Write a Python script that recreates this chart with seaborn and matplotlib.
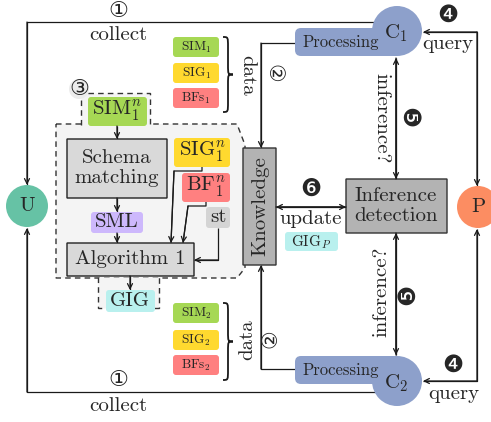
import matplotlib.pyplot as plt
import seaborn as sns
from matplotlib.patches import FancyBboxPatch, Circle, Polygon, PathPatch
from matplotlib.path import Path

sns.set_theme(style='white')
plt.rcParams['font.family'] = ['cmr10', 'DejaVu Sans']
plt.rcParams['mathtext.fontset'] = 'cm'
plt.rcParams['axes.unicode_minus'] = False

pal = sns.color_palette('Set2')

# Labels of the diagram
agents = ['U', 'P']
clients = ['C$_1$', 'C$_2$']
client_data = [['SIM$_1$', 'SIG$_1$', 'BFs$_1$'],
               ['SIM$_2$', 'SIG$_2$', 'BFs$_2$']]
data_colors = [pal[4], pal[5], '#ff8080']
step_marks = ['①', '②', '③', '❹', '❺', '❻']
edge_labels = ['collect', 'data', 'query', 'inference?', 'update']
pipeline = ['SIM$_1^n$', 'Schema\nmatching', 'SML', 'Algorithm 1', 'GIG']
side_inputs = ['SIG$_1^n$', 'BF$_1^n$', 'st']
central = ['Knowledge', 'Inference\ndetection', 'GIG$_P$', 'Processing']

fig = plt.figure(figsize=(4.91, 4.22), dpi=100)
ax = fig.add_axes([0, 0, 1, 1])
ax.set_xlim(0, 491)
ax.set_ylim(422, 0)
ax.axis('off')

LW = 0.9


def box(x0, y0, x1, y1, fc, ec='none', lw=0, r=3, z=2):
    ax.add_patch(FancyBboxPatch((x0, y0), x1 - x0, y1 - y0,
                                boxstyle=f'round,pad=0,rounding_size={r}',
                                fc=fc, ec=ec, lw=lw, zorder=z))


def arrow(p0, p1):
    ax.annotate('', xy=p1, xytext=p0, zorder=4,
                arrowprops=dict(arrowstyle='->', lw=LW, color='k',
                                shrinkA=0, shrinkB=0, mutation_scale=9))


def link(pts, start=False, end=True):
    xs = [p[0] for p in pts]
    ys = [p[1] for p in pts]
    ax.plot(xs, ys, color='k', lw=LW, zorder=1, solid_capstyle='butt')
    if end:
        arrow(pts[-2], pts[-1])
    if start:
        arrow(pts[1], pts[0])


def brace(x, y0, y1, w=10):
    ym = (y0 + y1) / 2
    h = w / 2
    verts = [(x, y0), (x + h, y0), (x + h, y0), (x + h, y0 + w),
             (x + h, ym - w),
             (x + h, ym), (x + h, ym), (x + w, ym),
             (x + h, ym), (x + h, ym), (x + h, ym + w),
             (x + h, y1 - w),
             (x + h, y1), (x + h, y1), (x, y1)]
    codes = [Path.MOVETO, Path.CURVE4, Path.CURVE4, Path.CURVE4, Path.LINETO,
             Path.CURVE4, Path.CURVE4, Path.CURVE4,
             Path.CURVE4, Path.CURVE4, Path.CURVE4, Path.LINETO,
             Path.CURVE4, Path.CURVE4, Path.CURVE4]
    ax.add_patch(PathPatch(Path(verts, codes), fc='none', ec='k', lw=1.3))


def txt(x, y, s, size=15, rot=0, z=5, **kw):
    ax.text(x, y, s, fontsize=size, rotation=rot, ha='center', va='center',
            zorder=z, **kw)


# dashed region with tabs
ax.add_patch(Polygon([(56, 124), (237, 124), (245, 145), (245, 268),
                      (237, 278), (56, 278)], closed=True, fc='#f4f4f4',
                     ec='#333333', lw=1, ls=(0, (4, 3)), zorder=0))
ax.add_patch(Polygon([(81, 125), (81, 93), (150, 93), (150, 125)], closed=False,
                     fc='#f4f4f4', ec='#333333', lw=1, ls=(0, (4, 3)), zorder=0))
ax.add_patch(Polygon([(98, 277), (98, 308), (159, 308), (159, 277)], closed=False,
                     fc='#f4f4f4', ec='#333333', lw=1, ls=(0, (4, 3)), zorder=0))
ax.add_patch(Circle((79, 89), 10, fc='#ececec', ec='none', zorder=1))
txt(79, 89, step_marks[2], size=16)

# outer collect / query links
link([(390, 22), (27, 22), (27, 185)])
link([(390, 392), (27, 392), (27, 228)])
link([(423, 32), (477, 32), (477, 186)], start=True)
link([(423, 381), (477, 381), (477, 229)], start=True)
txt(118, 11, step_marks[0], size=16)
txt(118, 35, edge_labels[0])
txt(118, 380, step_marks[0], size=16)
txt(118, 406, edge_labels[0])
txt(448, 16, step_marks[3], size=17)
txt(448, 44, edge_labels[2])
txt(453, 366, step_marks[3], size=17)
txt(454, 394, edge_labels[2])

# data to knowledge
link([(296, 43), (261, 43), (261, 148)])
link([(296, 369), (261, 369), (261, 265)])
txt(272, 73, step_marks[1], size=15, rot=-90)
txt(272, 339, step_marks[1], size=15, rot=90)
txt(247, 75, edge_labels[1], rot=-90)
txt(247, 340, edge_labels[1], rot=90)

# inference links
link([(276, 207), (346, 207)], start=True)
link([(396, 58), (396, 179)], start=True)
link([(396, 233), (396, 355)], start=True)
txt(381, 118, edge_labels[3], rot=-90)
txt(381, 292, edge_labels[3], rot=90)
txt(408, 118, step_marks[4], size=17, rot=-90)
txt(408, 294, step_marks[4], size=17, rot=90)
txt(311, 190, step_marks[5], size=17)
txt(311, 219, edge_labels[4])
box(285, 232, 338, 251, '#b9f0ee')
txt(311, 242, central[2], size=11)

# knowledge and inference detection
box(243, 148, 276, 265, '#b3b3b3', ec='#333333', lw=1, r=0)
txt(260, 206, central[0], rot=90)
box(346, 179, 447, 233, '#b3b3b3', ec='#333333', lw=1, r=0)
txt(396, 206, central[1], linespacing=1.1)

# agents
ax.add_patch(Circle((27, 206), 21, fc=pal[0], ec='none', zorder=3))
txt(27, 206, agents[0])
ax.add_patch(Circle((478, 207), 21, fc=pal[1], ec='none', zorder=3))
txt(478, 207, agents[1])

# clients with processing tabs
for cy, by, lab in [(31, 28, clients[0]), (381, 356, clients[1])]:
    box(295, by, 400, by + 28, pal[2], r=6, z=3)
    ax.add_patch(Circle((397, cy), 25, fc=pal[2], ec='none', zorder=3))
    txt(341, by + 14, central[3], size=12)
    txt(396, cy + 2, lab)

# client data boxes
for tops, items in [([37, 63, 88], client_data[0]), ([303, 330, 355], client_data[1])]:
    for top, s, c in zip(tops, items, data_colors):
        box(173, top, 219, top + 20, c)
        txt(196, top + 10, s, size=9.5)
brace(223, 37, 112)
brace(223, 303, 380)

# pipeline inside the dashed region
box(88, 97, 147, 126, pal[4])
txt(117, 111, pipeline[0])
box(67, 139, 167, 198, '#d9d9d9', ec='#222222', lw=1, r=0)
txt(117, 168, pipeline[1], linespacing=1.15)
box(91, 212, 143, 233, '#cdb8fc')
txt(117, 222, pipeline[2])
box(67, 243, 194, 276, '#d9d9d9', ec='#222222', lw=1, r=0)
txt(130, 259, pipeline[3])
box(106, 290, 155, 312, '#b9f0ee')
txt(130, 301, pipeline[4])

box(174, 138, 230, 167, pal[5])
txt(202, 152, side_inputs[0])
box(182, 173, 230, 202, '#ff8080')
txt(206, 187, side_inputs[1])
box(206, 207, 230, 228, '#d4d4d4')
txt(218, 217, side_inputs[2])

link([(117, 126), (117, 139)])
link([(117, 198), (117, 212)])
link([(117, 233), (117, 243)])
link([(130, 276), (130, 290)])
link([(202, 167), (202, 171), (174, 171), (171, 243)])
link([(206, 202), (206, 206), (188, 206), (183, 243)])
link([(218, 228), (218, 260), (194, 260)])

fig.savefig('out.png', dpi=100)
